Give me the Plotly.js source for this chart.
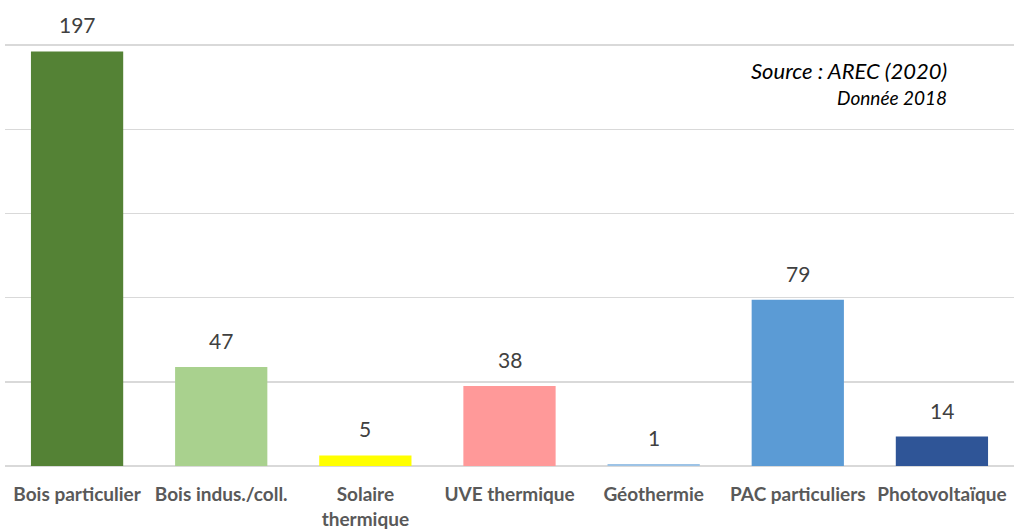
<!DOCTYPE html>
<html><head><meta charset="utf-8">
<script src="https://cdn.plot.ly/plotly-3.0.1.min.js"></script>
<style>html,body{margin:0;padding:0;background:#fff}#chart{width:1014px;height:530px}</style>
</head><body><div id="chart"></div>
<script>
const categories = ["Bois particulier", "Bois indus./coll.", "Solaire<br>thermique", "UVE thermique", "Géothermie", "PAC particuliers", "Photovoltaïque"];
const values = [197, 47, 5, 38, 1, 79, 14];
const colors = ["#548235", "#A9D18E", "#FFFF00", "#FF9999", "#9DC3E6", "#5B9BD5", "#2F5597"];
const sourceText = "Source : AREC (2020)";
const dateText = "Donnée 2018";

const font = "Lato, 'Open Sans', sans-serif";
const trace = {
  type: "bar", x: categories, y: values,
  marker: {color: colors, line: {width: 0}},
  hoverinfo: "none"
};
const annotations = categories.map((c, i) => ({
  x: c, y: values[i], xref: "x", yref: "y",
  text: String(values[i]), showarrow: false,
  yanchor: "bottom", yshift: 12,
  font: {family: font, size: 21, color: "#404040"}
}));
annotations.push({xref: "paper", yref: "paper", x: 0.936, y: 0.936, xanchor: "right", yanchor: "middle",
  text: "<i>" + sourceText + "</i>", showarrow: false, font: {family: font, size: 22, color: "#000"}});
annotations.push({xref: "paper", yref: "paper", x: 0.936, y: 0.870, xanchor: "right", yanchor: "middle",
  text: "<i>" + dateText + "</i>", showarrow: false, font: {family: font, size: 19, color: "#000"}});

const layout = {
  width: 1014, height: 530,
  margin: {l: 5, r: 0, t: 43, b: 64},
  paper_bgcolor: "#fff", plot_bgcolor: "#fff",
  bargap: 0.36, showlegend: false,
  xaxis: {tickfont: {family: font, size: 19, color: "#595959", weight: "bold"}, showline: false, ticks: "",
          showgrid: false, ticklabelstandoff: 15},
  yaxis: {range: [0, 201], tickvals: [0, 40, 80, 120, 160, 200], showticklabels: false, gridcolor: "#D9D9D9", gridwidth: 1.5,
          zeroline: true, zerolinecolor: "#D9D9D9", zerolinewidth: 1.5, fixedrange: true},
  annotations: annotations
};
Plotly.newPlot("chart", [trace], layout, {staticPlot: true});
</script></body></html>
